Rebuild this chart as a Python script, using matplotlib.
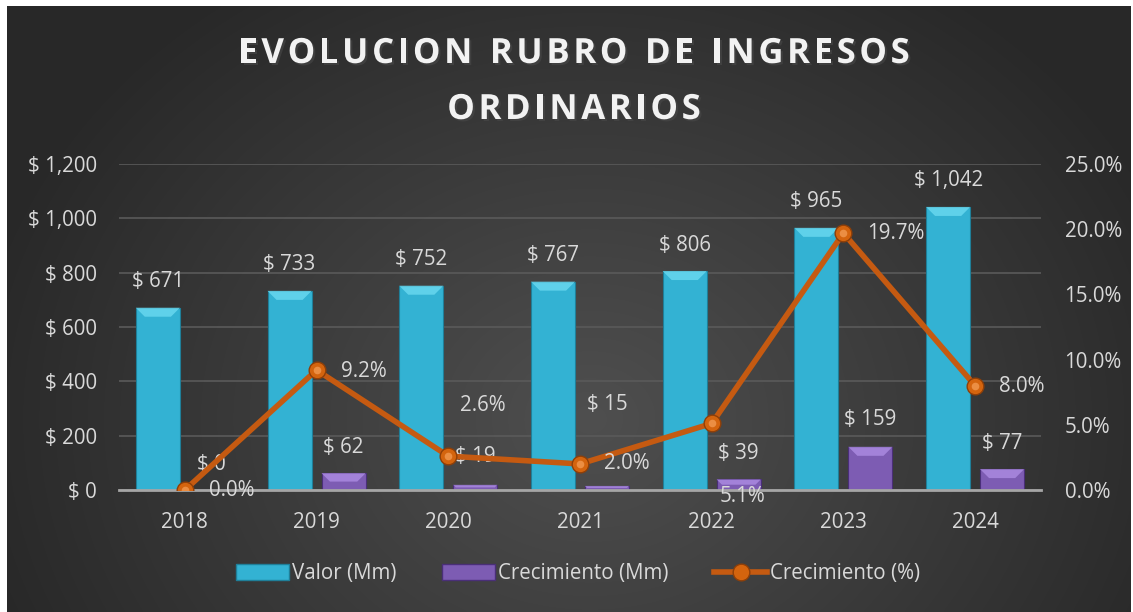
import numpy as np
import matplotlib
matplotlib.use("Agg")
import matplotlib.pyplot as plt
from matplotlib.patches import Polygon, Patch
from matplotlib.lines import Line2D
import matplotlib.patheffects as pe

# ---------------- data ----------------
years = ["2018", "2019", "2020", "2021", "2022", "2023", "2024"]
valor_mm = [671, 733, 752, 767, 806, 965, 1042]
crec_mm = [0, 62, 19, 15, 39, 159, 77]
crec_pct = [0.0, 9.2, 2.6, 2.0, 5.1, 19.7, 8.0]
left_ticks = [0, 200, 400, 600, 800, 1000, 1200]
right_ticks = [0, 5, 10, 15, 20, 25]
title_lines = ["EVOLUCION RUBRO DE INGRESOS", "ORDINARIOS"]
legend_labels = ["Valor (Mm)", "Crecimiento (Mm)", "Crecimiento (%)"]

# ---------------- style ----------------
plt.rcParams['font.family'] = ['Open Sans', 'DejaVu Sans']
TXT = '#d9d9d9'
CYAN = '#33b2d3'
CYAN_TOP = '#6fdcf2'
CYAN_EDGE = '#1f7f99'
PURP = '#7d5cb3'
PURP_TOP = '#b090e6'
PURP_EDGE = '#4a2f78'
ORANGE = '#c55a11'
FS = 14.8

W, H = 1133, 612
fig = plt.figure(figsize=(W / 100, H / 100), dpi=100)
fig.patch.set_facecolor('white')

# background gradient
bg = fig.add_axes([0, 0, 1, 1])
bg.set_xlim(0, W)
bg.set_ylim(H, 0)
bg.axis('off')
gx0, gx1, gy0, gy1 = 7, 1131, 6, 612
xx, yy = np.meshgrid(np.linspace(gx0, gx1, 400), np.linspace(gy0, gy1, 220))
r = np.sqrt(((xx - 590) / 620) ** 2 + ((yy - 420) / 520) ** 2)
g = np.clip(0.31 - 0.15 * r, 0.16, 0.31)
img = np.dstack([g, g, g])
bg.imshow(img, extent=(gx0, gx1, gy1, gy0), aspect='auto', interpolation='bilinear')

# main axes
axL, axR, axB, axT = 119, 1041, 490, 164
ax = fig.add_axes([axL / W, 1 - axB / H, (axR - axL) / W, (axB - axT) / H])
ax.patch.set_alpha(0)
ax2 = ax.twinx()
ax2.patch.set_alpha(0)

x = np.arange(len(years))
bw = 0.335
off = 0.205
ax.set_xlim(-0.5, len(years) - 0.5)
ax.set_ylim(0, 1200)
ax2.set_ylim(0, 25)

for s in ['top', 'right', 'left']:
    ax.spines[s].set_visible(False)
    ax2.spines[s].set_visible(False)
ax2.spines['bottom'].set_visible(False)
ax.spines['bottom'].set_color('#a6a6a6')
ax.spines['bottom'].set_linewidth(2)
ax.spines['bottom'].set_zorder(4)

ax.set_yticks(left_ticks)
ax.set_yticklabels([f"$ {v:,}" for v in left_ticks])
ax2.set_yticks(right_ticks)
ax2.set_yticklabels([f"{v:.1f}%" for v in right_ticks])
ax.set_xticks(x)
ax.set_xticklabels(years)
ax.tick_params(axis='y', length=0, pad=16, labelsize=FS, labelcolor=TXT)
ax2.tick_params(axis='y', length=0, pad=17, labelsize=FS, labelcolor=TXT)
ax.tick_params(axis='x', length=0, pad=16, labelsize=FS, labelcolor=TXT)
ax.grid(axis='y', color='#5a5a5a', linewidth=1.2)
ax.set_axisbelow(True)

b1 = ax.bar(x - off, valor_mm, width=bw, color=CYAN, edgecolor=CYAN_EDGE, linewidth=0.8, zorder=2)
b2 = ax.bar(x + off, crec_mm, width=bw, color=PURP, edgecolor=PURP_EDGE, linewidth=0.8, zorder=2)

# bevel on the top of the bars
ppx = (axB - axT) / 1200.0  # pixels per data unit
xpx = (axR - axL) / len(years)
def bevel(bars, col):
    for b in bars:
        h = b.get_height()
        if h <= 0:
            continue
        bx, bwid = b.get_x(), b.get_width()
        dpx = min(9, h * ppx * 0.5)
        dy = dpx / ppx
        dx = dpx / xpx
        poly = Polygon([(bx, h), (bx + bwid, h), (bx + bwid - dx, h - dy), (bx + dx, h - dy)],
                       closed=True, facecolor=col, edgecolor='none', alpha=0.75, zorder=3)
        ax.add_patch(poly)
bevel(b1, CYAN_TOP)
bevel(b2, PURP_TOP)

# line
ax2.plot(x, crec_pct, color=ORANGE, linewidth=4, zorder=5, solid_capstyle='round')
ax2.plot(x, crec_pct, linestyle='none', marker='o', markersize=12, markerfacecolor='#d4640e',
         markeredgecolor='#8f3f08', markeredgewidth=1, zorder=6)
ax2.plot(x, crec_pct, linestyle='none', marker='o', markersize=5.5, markerfacecolor='#f5a05a',
         markeredgecolor='none', alpha=0.7, zorder=7)

# data labels (offsets in pixels)
for xi, v in zip(x, valor_mm):
    ax.annotate(f"$ {v:,}", (xi - off, v), xytext=(0, 26), textcoords='offset pixels',
                ha='center', va='center', fontsize=FS, color=TXT, zorder=8)
crec_offsets = [26, 26, 28, 81, 26, 27, 26]
for xi, v, dy in zip(x, crec_mm, crec_offsets):
    ax.annotate(f"$ {v:,}", (xi + off, v), xytext=(0, dy), textcoords='offset pixels',
                ha='center', va='center', fontsize=FS, color=TXT, zorder=8)
pct_offsets = [(24, 0), (24, -1), (12, 51), (24, 0), (8, -73), (24, 0), (24, -1)]
for xi, v, (dx, dy) in zip(x, crec_pct, pct_offsets):
    ax2.annotate(f"{v:.1f}%", (xi, v), xytext=(dx, dy), textcoords='offset pixels',
                 ha='left', va='center', fontsize=FS, color=TXT, zorder=8)

# title with letter spacing
renderer = fig.canvas.get_renderer()
track = 3.6
tfs = 25
effects = [pe.SimplePatchShadow(offset=(1.5, -1.5), alpha=0.6), pe.Normal()]
for i, line in enumerate(title_lines):
    yc = 1 - (54 + i * 56) / H
    widths = []
    for ch in line:
        t = fig.text(0, 0, ch if ch != ' ' else 'I', fontsize=tfs, fontweight='bold')
        wpx = t.get_window_extent(renderer).width
        if ch == ' ':
            wpx *= 0.9
        widths.append(wpx)
        t.remove()
    total = sum(widths) + track * (len(line) - 1)
    xpos = 574 - total / 2
    for ch, wpx in zip(line, widths):
        if ch != ' ':
            fig.text(xpos / W, yc, ch, ha='left', va='center', fontsize=tfs, fontweight='bold',
                     color='#f2f2f2', path_effects=effects)
        xpos += wpx + track

# legend
handles = [Patch(facecolor=CYAN, edgecolor=CYAN_EDGE),
           Patch(facecolor=PURP, edgecolor=PURP_EDGE),
           Line2D([0], [0], color=ORANGE, linewidth=4, marker='o', markersize=12,
                  markerfacecolor='#d4640e', markeredgecolor='#8f3f08')]
leg = fig.legend(handles, legend_labels, loc='center', bbox_to_anchor=(578 / W, 1 - 574 / H),
                 ncol=3, frameon=False, fontsize=FS, labelcolor=TXT, handlelength=2.6,
                 handleheight=0.8, handletextpad=0.15, columnspacing=2.2)

fig.savefig('out.png', dpi=100)
